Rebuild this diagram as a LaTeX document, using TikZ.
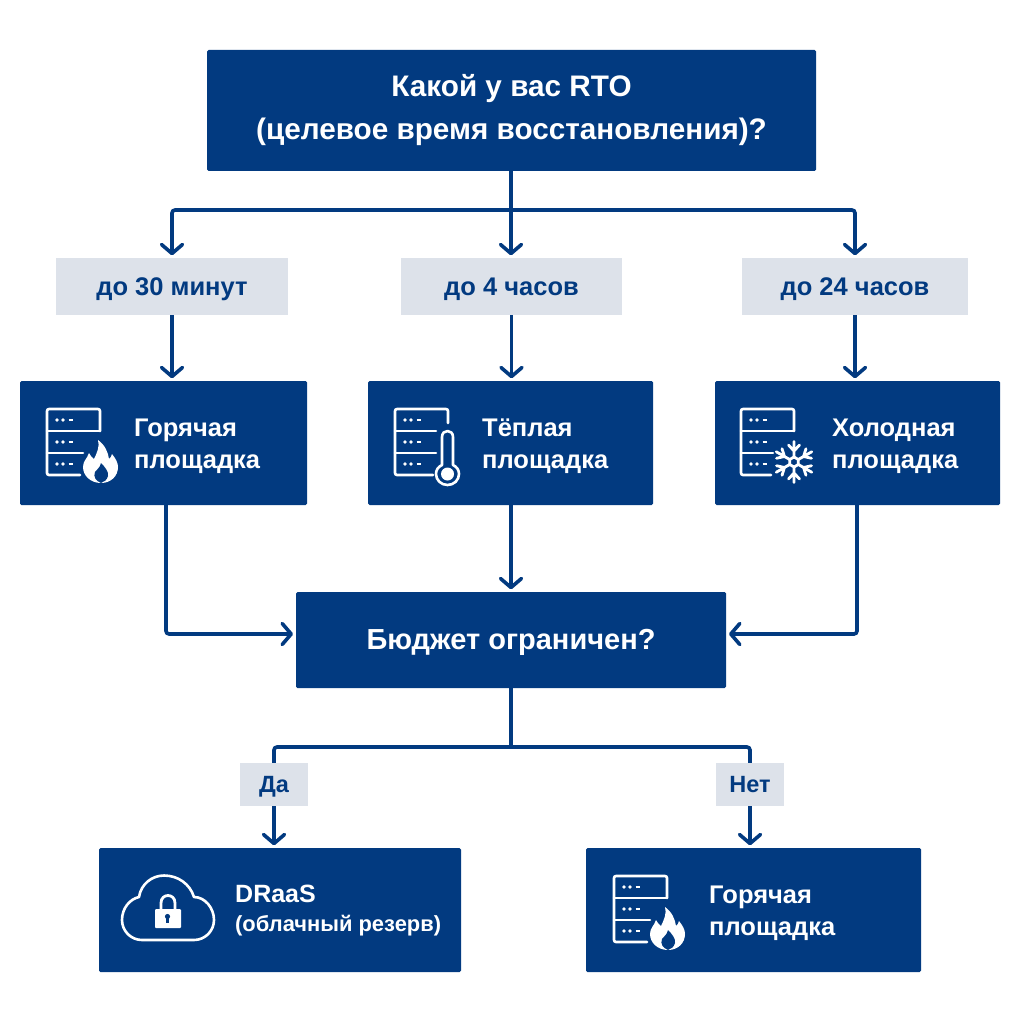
\documentclass[tikz,border=0pt]{standalone}
\usepackage{fontspec}
\setmainfont{Liberation Sans}
\usetikzlibrary{arrows.meta}
\definecolor{navy}{HTML}{023A80}
\definecolor{tagbg}{HTML}{DDE2EA}
\tikzset{
  x=1pt,y=-1pt,
  box/.style={fill=navy,rounded corners=1.5pt,inner sep=0pt,text=white},
  tag/.style={fill=tagbg,inner sep=0pt,text=navy,text height=17pt,text depth=0pt,font=\fontsize{25.5}{28}\selectfont\bfseries},
  smalltag/.style={tag,minimum width=68pt,minimum height=43pt,text height=16pt,font=\fontsize{23.5}{26}\selectfont\bfseries},
  lbl/.style={text=white,inner sep=0pt,anchor=west,align=left,font=\fontsize{25.5}{32}\selectfont\bfseries},
  conn/.style={draw=navy,line width=3.6pt,rounded corners=3pt},
  arr/.style={conn,-{Straight Barb[length=9pt,width=21pt,line width=3.6pt,round]}},
  ico/.style={draw=white,line width=2.6pt,line cap=round,line join=round,rounded corners=2pt},
  srvdots/.pic={
    \foreach \r in {11,33,55}{
      \fill[white] (10,\r) circle (1.8) (16,\r) circle (1.8);
      \draw[white,line width=1.8pt] (21.5,\r) -- (25.5,\r);
    }
  },
  fireshape/.pic={
    \fill[white] (54,74) .. controls (44,74) and (36,67) .. (36,58)
      .. controls (36,52) and (40,50) .. (42,44)
      .. controls (44,47) and (45,49) .. (47,50)
      .. controls (50,44) and (53,37) .. (51,31)
      .. controls (58,36) and (61,43) .. (62,50)
      .. controls (64,49) and (64,47) .. (65,45)
      .. controls (69,50) and (71,54) .. (71,58)
      .. controls (71,67) and (64,74) .. (54,74) -- cycle;
    \fill[navy] (54,74) .. controls (49,72) and (46,68) .. (48,63)
      .. controls (50,60) and (53,59) .. (54,54)
      .. controls (58,58) and (62,63) .. (61,67)
      .. controls (60,71) and (57,73) .. (54,74) -- cycle;
  },
  srvfire/.pic={
    \draw[ico] (53,22) -- (53,0) -- (0,0) -- (0,66) -- (33,66);
    \draw[ico] (0,22) -- (53,22) (0,44) -- (36,44);
    \pic {srvdots};
    \pic {fireshape};
  },
  srvtherm/.pic={
    \draw[ico] (53,14) -- (53,0) -- (0,0) -- (0,66) -- (38,66);
    \draw[ico] (0,22) -- (41,22) (0,44) -- (41,44);
    \pic {srvdots};
    \draw[ico,rounded corners=0pt] (47,56)
      -- (47,28) .. controls (47,20) and (58,20) .. (58,28)
      -- (58,56) .. controls (62,58) and (64,61) .. (64,65)
      .. controls (64,71) and (59,76) .. (52.5,76)
      .. controls (46,76) and (41,71) .. (41,65)
      .. controls (41,61) and (43,58) .. (47,56) -- cycle;
    \fill[white] (52.5,65) circle (6.5);
  },
  srvsnow/.pic={
    \draw[ico] (53,22) -- (53,0) -- (0,0) -- (0,66) -- (30,66);
    \draw[ico] (0,22) -- (53,22) (0,44) -- (32,44);
    \pic {srvdots};
    \foreach \a in {30,90,...,330}{
      \draw[white,line width=2.8pt,line cap=round,shift={(53,53)},rotate=\a]
        (5,0) -- (20.5,0) (11,0) -- (17,5.5) (11,0) -- (17,-5.5) (5,0) -- (2.5,4.33) ;
    }
  },
  cloudlock/.pic={
    \draw[ico,rounded corners=0pt] (142,940) .. controls (131,940) and (122,931) .. (122,920)
      .. controls (122,908) and (130,899) .. (139,897)
      .. controls (141,884) and (152,875.5) .. (164,875.5)
      .. controls (178,875.5) and (190,884) .. (194,897)
      .. controls (205,897) and (214,908) .. (214,920)
      .. controls (214,931) and (205,940) .. (194,940) -- cycle;
    \fill[white,rounded corners=1pt] (155,909) rectangle (181,928);
    \draw[white,line width=2.8pt] (161,909) -- (161,903) .. controls (161,893) and (175,893) .. (175,903) -- (175,909);
    \fill[navy] (167.5,916.5) circle (2.6);
    \fill[navy] (166.3,917) rectangle (168.7,923);
  },
}
\begin{document}
\begin{tikzpicture}
\useasboundingbox (0,0) rectangle (1024,1024);
\fill[white] (0,0) rectangle (1024,1024);

\node[box,minimum width=609pt,minimum height=121pt,align=center,
      font=\fontsize{29.7}{43}\selectfont\bfseries] (top) at (511.5,110.5)
  {Какой у вас RTO\\(целевое время восстановления)?};

\node[tag,minimum width=232pt,minimum height=57pt] (lab1) at (172,286.5) {до 30 минут};
\node[tag,minimum width=221pt,minimum height=57pt] (lab2) at (511.5,286.5) {до 4 часов};
\node[tag,minimum width=226pt,minimum height=57pt] (lab3) at (855,286.5) {до 24 часов};

\node[box,minimum width=287pt,minimum height=124pt] (box1) at (163.5,443) {};
\node[box,minimum width=285pt,minimum height=124pt] (box2) at (510.5,443) {};
\node[box,minimum width=285pt,minimum height=124pt] (box3) at (857.5,443) {};
\node[lbl] (t1) at (134,446.5) {Горячая\\площадка};
\node[lbl] (t2) at (482,446.5) {Тёплая\\площадка};
\node[lbl] (t3) at (832,446.5) {Холодная\\площадка};

\node[box,minimum width=430pt,minimum height=96pt,text height=19pt,text depth=0pt,font=\fontsize{29}{32}\selectfont\bfseries] (budget) at (511,640) {Бюджет ограничен?};

\node[smalltag] (yes) at (274,784.5) {Да};
\node[smalltag] (no) at (750,784.5) {Нет};

\node[box,minimum width=362pt,minimum height=124pt] (draas) at (280,910) {};
\node[box,minimum width=335pt,minimum height=124pt] (hot) at (753.5,910) {};
\node[lbl,font=\fontsize{25}{32}\selectfont\bfseries] (t4a) at (235,894) {DRaaS};
\node[lbl,font=\fontsize{21.9}{32}\selectfont\bfseries] (t4b) at (235,926) {(облачный резерв)};
\node[lbl] (t5) at (709,913) {Горячая\\площадка};

\pic at (47,409) {srvfire};
\pic at (395,409) {srvtherm};
\pic at (741,409) {srvsnow};
\pic at (614,876) {srvfire};
\pic at (0,0) {cloudlock};

\coordinate (b1out) at (166,505);
\coordinate (b3out) at (857,505);
\coordinate (bud1) at (293,634);
\coordinate (bud3) at (729,634);
\coordinate (busT) at (511,210);
\coordinate (busB) at (511,747);

\draw[arr] (top.south -| busT) -- ([yshift=2.5pt]lab2.north -| busT);
\draw[arr] (busT) -| ([yshift=2.5pt]lab1.north);
\draw[arr] (busT) -| ([yshift=2.5pt]lab3.north);
\draw[arr] (lab1.south) -- ([yshift=2.5pt]lab1.south |- box1.north);
\draw[arr] (lab2.south) -- ([yshift=2.5pt]lab2.south |- box2.north);
\draw[arr] (lab3.south) -- ([yshift=2.5pt]lab3.south |- box3.north);
\draw[arr] (b1out) |- (bud1);
\draw[arr] (b3out) |- (bud3);
\draw[arr] (busT |- box2.south) -- ([yshift=2.5pt]busT |- budget.north);
\draw[conn] (budget.south -| busB) -- (busB);
\draw[conn] (busB) -| (yes.north);
\draw[conn] (busB) -| (no.north);
\draw[arr] (yes.south) -- ([yshift=2.5pt]yes.south |- draas.north);
\draw[arr] (no.south) -- ([yshift=2.5pt]no.south |- hot.north);
\end{tikzpicture}
\end{document}
